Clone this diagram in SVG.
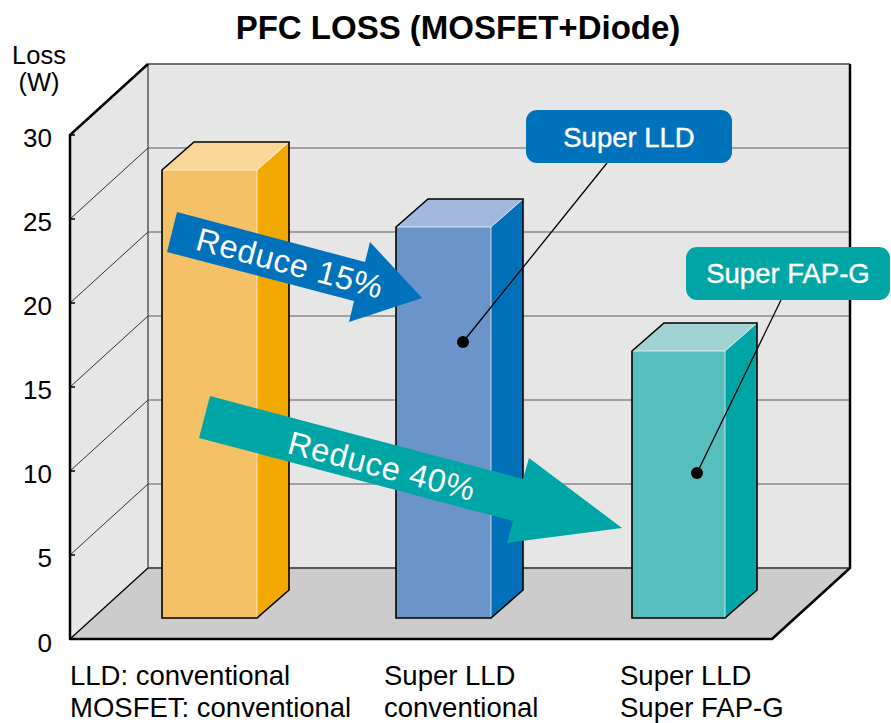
<svg xmlns="http://www.w3.org/2000/svg" width="891" height="723" viewBox="0 0 891 723">
<style>
text{font-family:"Liberation Sans",Arial,sans-serif;fill:#000}
.ax{font-size:26px;text-anchor:end}
.lbl{font-size:27.5px}
.grid{stroke:#8a8a8a;stroke-width:1.5;fill:none}
.diag{stroke:#333;stroke-width:1;fill:none}
.thick{stroke:#000;stroke-width:2.5;fill:none;stroke-linejoin:round}
.edge{stroke:#fff;stroke-opacity:0.7;stroke-width:1;fill:none}
.sil{stroke:#000;stroke-width:1.6;fill:none;stroke-linejoin:miter}
.wt{fill:#fff}
.lead{stroke:#000;stroke-width:1.3;fill:none}
</style>
<rect width="891" height="723" fill="#fff"/>
<text x="458" y="39" font-size="33" font-weight="bold" text-anchor="middle">PFC LOSS (MOSFET+Diode)</text>
<text x="39" y="64" font-size="25.5" text-anchor="middle">Loss</text>
<text x="39" y="91" font-size="25.5" text-anchor="middle">(W)</text>
<g id="chart-frame">
<polygon points="70,135 148,64 148,568 70,639" fill="#e6e6e6"/>
<rect x="148" y="64" width="702" height="504" fill="#e6e6e6"/>
<polygon points="70,639 148,568 850,568 772,639" fill="#cccccc"/>
<g class="grid">
<line x1="148" y1="484" x2="850" y2="484"/>
<line x1="148" y1="400" x2="850" y2="400"/>
<line x1="148" y1="316" x2="850" y2="316"/>
<line x1="148" y1="232" x2="850" y2="232"/>
<line x1="148" y1="148" x2="850" y2="148"/>
</g>
<g class="diag">
<line x1="70" y1="555" x2="148" y2="484"/>
<line x1="70" y1="471" x2="148" y2="400"/>
<line x1="70" y1="387" x2="148" y2="316"/>
<line x1="70" y1="303" x2="148" y2="232"/>
<line x1="70" y1="219" x2="148" y2="148"/>
<line x1="70" y1="639" x2="148" y2="568" stroke="#000" stroke-width="1.3"/>
</g>
<line x1="148" y1="64" x2="850" y2="64" stroke="#444" stroke-width="1.3"/>
<line x1="148" y1="64" x2="148" y2="568" stroke="#444" stroke-width="1.3"/>
<line x1="148" y1="568" x2="850" y2="568" stroke="#555" stroke-width="2"/>
<path class="thick" d="M148,64 L70,135 L70,639 L772,639 L850,568 L850,64"/>
<g stroke="#000" stroke-width="1.5">
<line x1="70" y1="135" x2="75" y2="135"/>
<line x1="70" y1="219" x2="75" y2="219"/>
<line x1="70" y1="303" x2="75" y2="303"/>
<line x1="70" y1="387" x2="75" y2="387"/>
<line x1="70" y1="471" x2="75" y2="471"/>
<line x1="70" y1="555" x2="75" y2="555"/>
</g>
<text class="ax" x="52" y="147">30</text>
<text class="ax" x="52" y="231">25</text>
<text class="ax" x="52" y="315">20</text>
<text class="ax" x="52" y="399">15</text>
<text class="ax" x="52" y="483">10</text>
<text class="ax" x="52" y="567">5</text>
<text class="ax" x="52" y="652">0</text>
</g>
<g id="bar-conventional">
<rect x="162" y="170" width="95" height="448" fill="#f5c166"/>
<polygon points="257,170 289,142 289,590 257,618" fill="#f1a900"/>
<polygon points="162,170 194,142 289,142 257,170" fill="#fbd699"/>
<path class="edge" d="M162,170 L257,170 L257,618 M257,170 L289,142"/>
<path class="sil" d="M162,618 L162,170 L194,142 L289,142 L289,590 L257,618 Z"/>
</g>
<g id="bar-superlld">
<rect x="396" y="227" width="95" height="391" fill="#6b94cb"/>
<polygon points="491,227 523,199 523,590 491,618" fill="#0071b9"/>
<polygon points="396,227 428,199 523,199 491,227" fill="#a3b8df"/>
<path class="edge" d="M396,227 L491,227 L491,618 M491,227 L523,199"/>
<path class="sil" d="M396,618 L396,227 L428,199 L523,199 L523,590 L491,618 Z"/>
</g>
<g id="bar-superfapg">
<rect x="632" y="351" width="93" height="267" fill="#57bebe"/>
<polygon points="725,351 757,323 757,590 725,618" fill="#00a6a6"/>
<polygon points="632,351 664,323 757,323 725,351" fill="#a0d4d4"/>
<path class="edge" d="M632,351 L725,351 L725,618 M725,351 L757,323"/>
<path class="sil" d="M632,618 L632,351 L664,323 L757,323 L757,590 L725,618 Z"/>
</g>
<g id="arrow-reduce15">
<polygon points="177,212 365,262 370,242 422,298 349,322 354,301 167,252" fill="#0072bb"/>
<text class="wt" x="287" y="274" font-size="32.5" letter-spacing="0.6" text-anchor="middle" transform="rotate(15 287 274)">Reduce 15%</text>
</g>
<g id="arrow-reduce40">
<polygon points="210,396 523,479 529,458 622,528 507,543 513,521 199,438" fill="#00a6a6"/>
<text class="wt" x="379" y="477" font-size="32.5" letter-spacing="0.6" text-anchor="middle" transform="rotate(14.6 379 477)">Reduce 40%</text>
</g>
<g id="connectors">
<line class="lead" x1="607" y1="163" x2="463" y2="342"/>
<line class="lead" x1="781" y1="300" x2="697" y2="473"/>
<circle cx="463" cy="342" r="6" fill="#000"/>
<circle cx="697" cy="473" r="6" fill="#000"/>
</g>
<g id="callout-superlld">
<rect x="526" y="110" width="206" height="53" rx="11" fill="#0072bb"/>
<text class="wt" x="629" y="147" font-size="27.5" text-anchor="middle" stroke="#fff" stroke-width="0.4">Super LLD</text>
</g>
<g id="callout-superfapg">
<rect x="686" y="247" width="204" height="53" rx="11" fill="#00a6a6"/>
<text class="wt" x="788" y="283" font-size="27.5" text-anchor="middle" stroke="#fff" stroke-width="0.4">Super FAP-G</text>
</g>
<g id="category-labels">
<text class="lbl" x="70" y="685">LLD: conventional</text>
<text class="lbl" x="70" y="717">MOSFET: conventional</text>
<text class="lbl" x="384" y="685">Super LLD</text>
<text class="lbl" x="384" y="717">conventional</text>
<text class="lbl" x="620" y="685">Super LLD</text>
<text class="lbl" x="620" y="717">Super FAP-G</text>
</g>
</svg>
